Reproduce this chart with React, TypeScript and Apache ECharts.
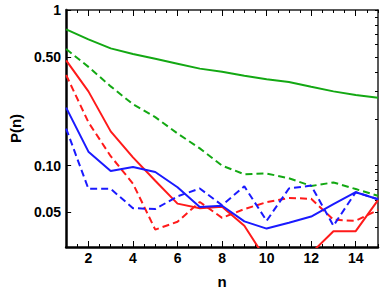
import React, { useEffect, useRef } from "react";
import * as echarts from "echarts";

const nValues = [1, 2, 3, 4, 5, 6, 7, 8, 9, 10, 11, 12, 13, 14, 15];
const greenSolid = [0.75, 0.648, 0.567, 0.522, 0.486, 0.452, 0.42, 0.401, 0.378, 0.359, 0.345, 0.321, 0.3, 0.284, 0.273];
const greenDashed = [0.561, 0.431, 0.323, 0.248, 0.205, 0.161, 0.129, 0.1, 0.088, 0.089, 0.083, 0.074, 0.078, 0.0707, 0.064];
const redSolid = [0.474, 0.3, 0.166, 0.113, 0.08, 0.057, 0.0533, 0.0544, 0.0411, 0.0246, 0.022, 0.0274, 0.0379, 0.0379, 0.06];
const redDashed = [0.382, 0.19, 0.115, 0.0766, 0.0388, 0.0436, 0.0584, 0.0462, 0.0526, 0.0582, 0.062, 0.0612, 0.0449, 0.0442, 0.0519];
const blueSolid = [0.236, 0.123, 0.0924, 0.098, 0.091, 0.0726, 0.0542, 0.0552, 0.0438, 0.0394, 0.043, 0.0471, 0.0565, 0.0675, 0.0608];
const blueDashed = [0.173, 0.0709, 0.0709, 0.0533, 0.0526, 0.0635, 0.0713, 0.0557, 0.0736, 0.0442, 0.0713, 0.0744, 0.0411, 0.0675, 0.0608];

const xTickLabels = [2, 4, 6, 8, 10, 12, 14];
const yTickLabels = [0.05, 0.1, 0.5, 1];
const yMinorTicks = [0.03, 0.04, 0.05, 0.06, 0.07, 0.08, 0.09, 0.1, 0.2, 0.3, 0.4, 0.5, 0.6, 0.7, 0.8, 0.9, 1];

const GREEN = "#13a813";
const RED = "#ff1a1a";
const BLUE = "#1a1aff";
const FONT = "'Liberation Sans', Arial, sans-serif";

function pairs(ys: number[]) {
  return nValues.map((n, i) => [n, ys[i]]);
}

export default function App() {
  const ref = useRef<HTMLDivElement>(null);
  useEffect(() => {
    document.body.style.margin = "0";
    const chart = echarts.init(ref.current!, null, { renderer: "svg" });
    const labelStyle = { fontFamily: FONT, fontWeight: "bold" as const, fontSize: 14, color: "#000" };
    const line = (data: number[], color: string, dashed: boolean) => ({
      type: "line",
      data: pairs(data),
      showSymbol: false,
      xAxisIndex: 0,
      yAxisIndex: 0,
      lineStyle: { color, width: 2, type: dashed ? [7, 4] : "solid" },
      clip: true,
    });
    chart.setOption({
      animation: false,
      grid: { left: 54, right: 3, top: 10, bottom: 42 },
      xAxis: [
        {
          type: "value",
          min: 1,
          max: 15,
          interval: 0.5,
          position: "bottom",
          name: "n",
          nameLocation: "middle",
          nameGap: 27,
          nameTextStyle: { ...labelStyle, fontSize: 15 },
          axisLine: { show: true, lineStyle: { color: "#000", width: 2.5 } },
          axisTick: { show: true, inside: true, length: 3, lineStyle: { color: "#000", width: 1 } },
          axisLabel: { show: true, margin: 4, customValues: xTickLabels, formatter: (v: number) => String(v), ...labelStyle },
          splitLine: { show: false },
        },
        {
          type: "value",
          min: 1,
          max: 15,
          position: "bottom",
          axisLine: { show: false },
          axisTick: { show: true, inside: true, length: 6, customValues: xTickLabels, lineStyle: { color: "#000", width: 1 } },
          axisLabel: { show: false },
          splitLine: { show: false },
        },
        {
          type: "value",
          min: 1,
          max: 15,
          interval: 0.5,
          position: "top",
          axisLine: { show: true, lineStyle: { color: "#222", width: 1.5 } },
          axisTick: { show: true, inside: true, length: 3, lineStyle: { color: "#000", width: 1 } },
          axisLabel: { show: false },
          splitLine: { show: false },
        },
        {
          type: "value",
          min: 1,
          max: 15,
          position: "top",
          axisLine: { show: false },
          axisTick: { show: true, inside: true, length: 6, customValues: xTickLabels, lineStyle: { color: "#000", width: 1 } },
          axisLabel: { show: false },
          splitLine: { show: false },
        },
      ],
      yAxis: [
        {
          type: "log",
          logBase: 10,
          min: 0.03,
          max: 1,
          position: "left",
          name: "P(n)",
          nameLocation: "middle",
          nameGap: 42,
          nameRotate: 90,
          nameTextStyle: { ...labelStyle, fontSize: 15 },
          axisLine: { show: true, lineStyle: { color: "#000", width: 2.5 } },
          axisTick: { show: true, inside: true, length: 5, customValues: yTickLabels, lineStyle: { color: "#000", width: 1 } },
          axisLabel: {
            show: true,
            margin: 5,
            customValues: yTickLabels,
            formatter: (v: number) => (v >= 0.999 ? "1" : v.toFixed(2)),
            ...labelStyle,
          },
          splitLine: { show: false },
        },
        {
          type: "log",
          logBase: 10,
          min: 0.03,
          max: 1,
          position: "right",
          axisLine: { show: true, lineStyle: { color: "#222", width: 1.5 } },
          axisTick: { show: true, inside: true, length: 3, customValues: yMinorTicks, lineStyle: { color: "#000", width: 1 } },
          axisLabel: { show: false },
          splitLine: { show: false },
        },
      ],
      series: [
        line(greenSolid, GREEN, false),
        line(greenDashed, GREEN, true),
        line(redSolid, RED, false),
        line(redDashed, RED, true),
        line(blueSolid, BLUE, false),
        line(blueDashed, BLUE, true),
      ],
    });
    return () => chart.dispose();
  }, []);
  return <div ref={ref} style={{ width: 381, height: 294 }} />;
}
